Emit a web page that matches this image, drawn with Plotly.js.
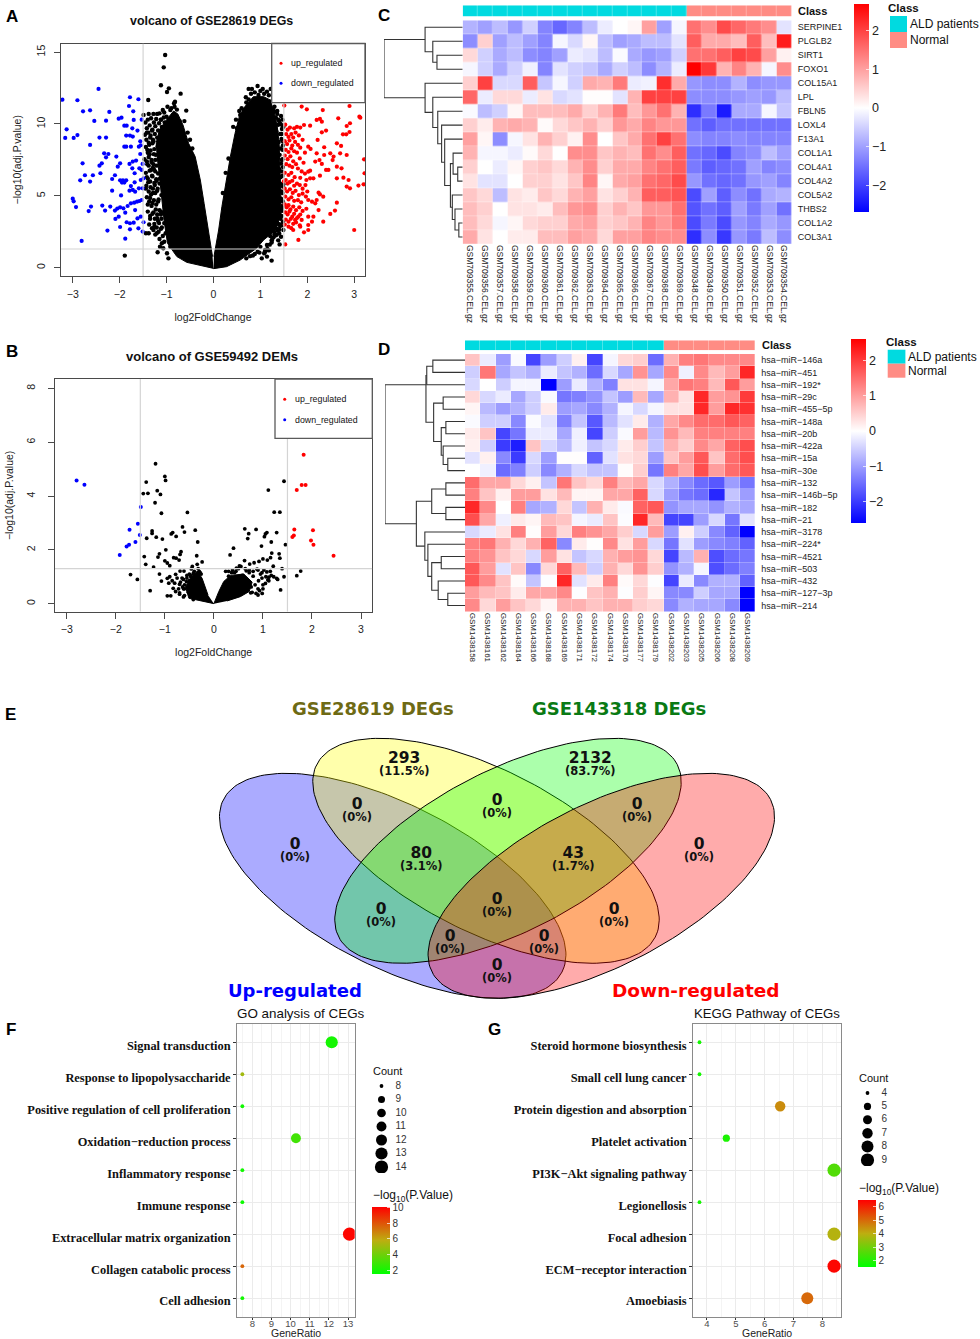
<!DOCTYPE html>
<html>
<head>
<meta charset="utf-8">
<script src="https://cdn.plot.ly/plotly-3.0.1.min.js"></script>
<style>html,body{margin:0;padding:0;background:#fff}#chart{width:980px;height:1339px}</style>
</head>
<body>
<div id="chart"></div>
<script>
// ---------- Panel A: volcano of GSE28619 ----------
const aBlueX=[-3.22,-2.90,-2.45,-1.78,-1.60,-2.78,-2.63,-2.22,-1.80,-1.71,-2.54,-2.29,-2.02,-1.96,-1.53,-1.90,-1.85,-1.70,-1.73,-1.62,-3.13,-3.16,-2.98,-2.90,-2.43,-2.29,-1.86,-1.78,-1.72,-1.56,-2.63,-1.90,-1.86,-1.76,-1.59,-1.55,-2.33,-2.24,-2.29,-2.07,-1.56,-2.79,-2.38,-2.43,-1.99,-2.04,-1.65,-1.72,-1.79,-1.51,-1.53,-1.73,-1.58,-2.74,-2.57,-2.41,-2.16,-2.10,-1.68,-2.84,-2.63,-1.99,-1.93,-1.86,-1.95,-1.90,-1.68,-1.76,-1.55,-1.49,-1.59,-2.16,-1.72,-1.67,-1.97,-1.79,-1.51,-3.00,-2.98,-2.93,-2.37,-2.20,-2.61,-2.66,-2.31,-2.10,-2.05,-1.99,-1.92,-1.83,-1.76,-1.69,-1.63,-1.58,-1.53,-2.09,-2.02,-1.88,-1.67,-1.99,-2.26,-1.85,-1.78,-1.70,-1.62,-1.55,-1.49,-1.78,-1.60,-1.51,-2.81,-1.88];
const aBlueY=[11.69,11.65,12.44,11.86,11.72,10.88,10.95,10.84,11.25,10.88,10.21,10.23,10.37,10.44,10.30,9.88,9.88,10.28,9.70,9.54,9.63,9.03,9.03,9.23,9.05,9.05,9.19,9.19,9.12,8.79,8.54,8.42,8.42,8.42,8.42,8.52,7.96,7.91,7.68,7.73,7.91,7.26,7.26,7.10,7.26,7.03,7.45,7.38,7.22,7.22,6.80,6.91,6.91,6.43,6.43,6.57,6.17,6.43,6.57,6.08,5.99,6.08,6.08,6.08,5.92,5.92,5.94,5.68,6.10,6.22,5.52,5.36,5.41,5.29,5.03,5.36,5.52,4.80,4.62,4.22,4.32,4.25,4.25,3.94,3.97,3.97,4.11,4.20,4.13,4.29,4.48,4.52,4.59,4.64,4.71,3.39,3.55,3.83,4.01,2.83,2.58,3.16,3.09,3.13,3.43,3.55,3.16,2.67,2.74,2.51,1.86,2.02];
const aRedX=[2.90,3.11,3.13,3.21,3.22,3.20,3.00,3.09,2.91,2.84,2.88,2.77,2.73,2.63,2.63,2.54,2.49,2.56,2.70,2.84,2.63,2.72,2.83,2.76,2.90,2.91,2.84,2.66,2.33,1.99,1.88,1.51,2.27,2.20,2.31,2.40,2.31,2.06,1.93,2.22,2.02,2.07,2.36,2.36,2.20,2.17,2.26,2.31,2.45,2.40,2.27,2.02,2.06,2.13,2.06,2.24,2.27,2.34,2.20,2.17,2.10,2.02,2.63,2.49,2.59,2.24,2.34,2.13,2.10,2.02,2.02,1.93,1.81,1.53,1.70,1.85,1.88,2.02,1.81,1.74,
1.53,1.58,1.63,1.72,1.78,1.85,1.55,1.60,1.66,1.70,1.75,1.82,1.52,1.57,1.62,1.68,1.74,1.80,1.90,1.95,1.54,1.60,1.66,1.72,1.78,1.85,1.52,1.58,1.64,1.70,1.76,1.84,1.92,1.55,1.62,1.68,1.80,1.88,1.95,1.52,1.60,1.66,1.73,1.85,1.98,1.50,1.54,1.58,1.62,1.68,1.72,1.78,1.84,1.90,1.96,2.00,1.52,1.57,1.63,1.69,1.75,1.82,1.90,1.97,1.53,1.60,1.66,1.72,1.80,1.87,1.52,1.56,1.60,1.64,1.70,1.76,1.83,1.90,1.98,1.53,1.58,1.62,1.68,1.72,1.78,1.85,1.54,1.60,1.65,1.70,1.76,1.84,1.52,1.60,1.66];
const aRedY=[11.25,10.51,10.44,7.54,6.57,5.80,2.62,5.71,5.52,5.64,6.10,6.26,6.91,7.03,6.22,7.49,7.96,7.73,7.96,7.84,8.65,8.47,9.28,9.28,9.44,10.05,9.86,10.39,10.97,11.02,11.21,11.28,10.35,10.28,10.16,9.54,9.42,9.88,9.93,8.89,8.42,8.26,8.38,7.84,7.96,7.38,7.49,7.22,6.80,6.80,6.40,6.68,6.75,6.22,6.22,5.22,5.10,4.94,4.71,4.48,4.59,4.71,4.52,3.74,3.97,4.01,3.20,3.55,3.20,2.97,2.62,2.46,1.93,1.62,2.62,2.85,3.32,3.55,3.55,3.32,
9.95,9.60,9.75,9.70,9.80,9.75,9.30,9.10,9.30,9.05,9.40,9.20,8.80,8.60,8.85,8.50,8.75,8.55,8.90,8.00,8.20,8.05,8.30,8.10,8.00,8.35,7.80,7.55,7.75,7.40,7.20,7.60,7.30,7.20,7.10,7.00,6.90,6.70,6.55,6.60,6.45,6.60,6.30,6.25,6.10,6.00,6.10,5.85,5.95,6.05,5.70,5.85,5.75,5.50,5.75,5.30,5.50,5.30,5.45,5.20,5.35,5.05,5.15,4.95,4.95,4.75,4.90,4.65,4.70,4.55,4.40,4.20,4.35,4.05,4.25,4.00,4.20,3.95,4.10,3.85,3.70,3.90,3.55,3.75,3.45,3.70,3.35,3.20,3.40,3.05,3.15,2.95,3.00,2.85,2.75];
const aBlackX=[-1.03,-1.06,-1.12,-0.95,-0.99,-0.70,-1.39,-0.84,-0.82,-1.08,-0.58,-1.28,-1.15,-1.49,-1.38,-0.92,-1.89,-0.96,-1.19,-1.07,-1.14,-0.99,-0.92,-1.38,-1.44,-1.28,-1.21,
0.94,0.75,0.82,1.05,1.22,1.14,0.69,0.96,0.64,0.57,1.03,1.24,1.14,0.94,1.41,1.28,1.21,1.49,1.14,1.10,
-1.45,-1.42,-1.40,-1.36,-1.33,-1.30,-1.27,-1.24,-1.22,-1.18,-1.16,-1.12,-1.10,-1.06,-1.04,-1.00,-1.46,-1.43,-1.39,-1.35,-1.31,-1.28,-1.25,-1.20,-1.17,-1.13,-1.09,-1.05,-1.44,-1.40,-1.37,-1.34,-1.30,-1.26,-1.23,-1.19,-1.15,-1.11,-1.08,-1.03,-1.47,-1.41,-1.38,-1.32,-1.29,-1.24,-1.21,-1.16,-1.13,-1.07,-1.02,-1.42,-1.36,-1.31,-1.27,-1.22,-1.18,-1.14,-1.10,-1.04,-1.44,-1.39,-1.34,-1.29,-1.25,-1.20,-1.15,-1.11,-1.06,-1.00,-1.40,-1.35,-1.30,-1.23,-1.18,-1.12,-1.08,-1.35,-1.28,-1.20,-1.12,-1.05,-1.00,-0.97,-1.26,-1.18,-1.10,-1.02,-0.98,-0.94,
1.30,1.33,1.36,1.40,1.44,1.47,1.31,1.34,1.38,1.42,1.46,1.49,1.32,1.35,1.39,1.43,1.45,1.48,1.30,1.37,1.41,1.44,1.47,1.33,1.36,1.40,1.43,1.46,1.35,1.38,1.42,1.45,1.48,1.34,1.39,1.44,1.47,1.36,1.41,1.46,1.33,1.38,1.43,1.47,1.31,1.37,1.42,1.30,1.35,1.40,1.44,1.28,1.33,1.38,1.24,1.20,1.15,1.08,1.00,0.88,0.78,0.70,1.25,1.18,1.10,0.98,0.84,
-1.42,-1.38,-1.34,-1.29,-1.41,-1.36,-1.32,-1.27,-1.42,-1.38,-1.33,-1.28,-1.24,-1.44,-1.40,-1.35,-1.30,-1.26,-1.21,-1.43,-1.38,-1.33,-1.29,-1.24,-1.19,-1.42,-1.37,-1.32,-1.27,-1.22,-1.17,-1.40,-1.35,-1.30,-1.25,-1.20,-1.15,-1.37,-1.31,-1.26,-1.21,-1.16,-1.11,-1.24,-1.17,-1.12,-1.08,-1.15,-1.05,-1.10,-1.20,-1.12,-1.05,-0.98,-0.90,-0.83,-0.78,-0.72,-0.62,-0.55,-0.50,-0.45,
0.42,0.48,0.50,0.55,0.60,0.62,0.70,0.75,0.80,0.88,1.00,1.08,1.18,1.25,1.30,1.36,1.27,1.38,1.43,1.47,1.45,1.48,1.47,1.46,1.48,1.47,1.49,1.47,1.48,1.46,1.45,1.48,1.42,1.36,1.40,1.30,1.24,0.32,0.26,0.20];
const aBlackY=[14.80,13.94,12.69,12.48,12.23,12.11,11.67,11.44,11.55,10.97,10.93,10.70,10.74,10.63,10.70,10.97,0.84,0.65,1.07,1.35,1.46,1.00,1.46,2.39,2.39,2.62,2.39,
12.64,12.44,12.44,12.44,12.44,12.25,11.86,12.02,10.97,10.63,0.65,0.49,0.77,1.11,1.62,2.11,2.20,2.62,1.58,1.23,
10.10,9.70,10.30,9.90,10.40,9.60,10.10,9.85,10.35,9.55,10.05,10.30,9.80,10.45,10.10,10.50,9.25,8.90,9.40,9.05,9.55,8.80,9.30,9.05,8.60,9.20,8.75,8.95,8.40,8.00,8.55,8.15,8.65,8.25,7.85,8.45,8.05,8.20,7.75,8.35,7.55,7.20,7.70,7.35,6.95,7.50,7.10,7.60,7.25,6.85,6.60,6.30,6.75,6.40,6.85,6.15,6.55,6.20,6.65,5.85,5.50,5.95,5.60,5.20,5.75,5.35,5.85,5.05,5.40,4.75,4.40,4.85,4.50,4.05,4.60,3.90,3.80,3.40,3.85,3.45,3.70,3.10,3.50,3.00,2.85,3.25,2.80,2.40,2.90,2.20,
10.85,10.45,10.70,10.20,10.55,10.30,9.85,9.50,9.95,9.30,9.65,9.80,8.90,8.60,8.75,8.30,8.95,8.50,7.90,7.60,7.85,7.25,7.55,6.90,6.60,6.85,6.30,6.70,5.95,5.60,5.85,5.30,5.65,4.95,4.55,4.80,4.30,4.05,3.70,3.95,3.45,3.05,3.40,2.95,3.10,2.60,2.90,2.45,2.30,2.65,2.15,2.70,2.25,1.90,1.75,1.60,1.30,1.00,1.45,0.95,0.80,0.65,1.95,1.20,1.10,1.05,0.85,
9.40,8.70,9.20,8.90,8.20,7.90,7.50,7.90,7.40,7.10,6.80,7.20,6.70,6.60,6.20,6.00,6.35,5.90,6.05,5.70,5.30,5.10,5.50,5.20,5.50,4.90,4.60,4.30,4.70,4.40,4.75,3.90,3.60,3.75,3.40,3.70,4.00,3.00,2.75,3.05,2.80,3.10,3.40,2.30,2.50,2.70,2.20,2.00,1.80,1.70,10.70,10.30,10.80,11.20,11.10,11.20,11.00,10.20,10.20,9.40,8.90,8.30,
9.80,10.30,9.70,10.90,11.10,10.50,11.50,11.70,12.10,12.20,12.30,12.10,12.00,11.60,11.20,10.90,11.00,10.30,10.00,9.90,9.30,8.80,8.20,7.50,7.00,6.40,5.80,5.20,4.60,4.10,3.60,3.20,3.00,2.70,2.40,2.30,1.90,7.60,6.60,5.20];
// outline of the solid black mass
const aMassLeftX=[0,-0.28,-0.57,-0.78,-0.98,-1.05,-1.10,-1.15,-1.20,-1.22,-1.15,-1.00,-0.85,-0.76,-0.65,-0.53,-0.39,-0.28,-0.20,-0.11,-0.02];
const aMassLeftY=[-0.05,0.14,0.37,0.77,1.70,3.20,4.90,6.30,7.70,8.70,9.60,10.30,10.90,10.70,9.93,8.65,7.73,6.10,4.48,2.62,0.77];
const aMassRightX=[0.01,0.11,0.18,0.28,0.36,0.46,0.55,0.67,0.85,1.07,1.21,1.30,1.36,1.40,1.42,1.44,1.42,1.33,1.07,0.92,0.57,0.28,0];
const aMassRightY=[0.77,2.62,4.25,6.33,7.73,9.35,10.51,11.21,11.9,11.9,11.67,10.74,9.81,8.65,7.00,4.70,3.55,2.62,1.93,1.35,0.53,0.07,-0.07];

// ---------- Panel B: volcano of GSE59492 ----------
const bRedX=[1.83,1.79,1.87,1.69,1.64,2.02,1.63,1.60,1.98,2.03,2.44];
const bRedY=[5.53,4.41,4.41,4.22,2.76,2.73,2.53,2.48,2.35,2.19,1.78];
const bBlueX=[-2.80,-2.64,-1.49,-1.55,-1.72,-1.51,-1.60,-1.73,-1.78,-1.92];
const bBlueY=[4.58,4.42,3.59,2.97,2.75,2.55,2.29,2.19,2.12,1.81];
const bBlackX=[-1.19,-1.00,-0.985,-1.38,-1.155,-1.44,-1.345,-1.09,-1.20,-1.07,-0.54,-0.64,-0.60,-0.38,-1.26,-1.26,-1.37,-1.175,-1.05,-0.87,-0.84,-0.77,-0.33,-0.98,-1.42,-1.11,-1.14,-0.67,-0.69,-1.39,-1.23,-1.00,-0.95,-0.90,-0.82,-0.77,-0.71,-0.35,-0.24,-0.34,-0.44,-0.46,-1.70,-1.56,-1.11,-1.07,-1.30,-0.95,-0.92,-0.80,-0.83,-0.78,-0.95,-0.88,-0.78,-0.69,-0.61,-0.90,-0.85,-0.75,-0.70,-0.65,-0.62,-0.55,-0.50,-0.70,-0.60,-0.52,-0.42,-0.38,-0.30,-0.26,-0.33,-0.40,-0.47,-0.56,-0.64,-0.60,-0.52,-0.45,-0.50,-0.55,-0.62,-0.68,-0.72,-0.48,-0.40,-0.32,-0.28,-0.60,-0.70,-0.62,-0.42,
1.43,1.11,1.23,1.345,0.63,0.86,0.71,0.69,1.08,1.05,1.03,1.28,1.17,1.46,0.97,0.40,0.33,1.18,1.33,1.345,1.155,1.09,1.00,0.92,0.82,0.73,0.625,0.52,1.39,1.21,1.77,1.69,1.43,1.28,1.36,0.985,0.90,0.45,0.50,0.58,0.66,0.72,0.80,0.88,0.95,1.02,1.08,1.12,1.17,0.42,0.48,0.55,0.62,0.70,0.76,0.84,0.91,0.98,1.05,1.10,1.00,0.93,0.86,0.78,0.24,0.30,0.36,0.30,0.38,0.46,0.55,0.64,0.72,0.80,0.90,0.98,1.06,1.12,1.00,0.90,0.75,1.15,1.22,1.30];
const bBlackY=[5.20,4.73,4.58,4.52,4.20,4.09,4.10,4.06,3.75,3.36,3.39,2.85,2.66,2.73,2.70,2.61,2.43,2.47,2.40,2.59,2.64,2.50,2.29,2.00,1.75,1.85,1.73,1.93,1.83,1.46,1.36,1.59,1.51,1.41,1.71,1.69,1.62,1.78,1.55,1.46,1.38,1.29,1.08,0.90,1.10,0.84,0.48,0.94,0.76,0.76,0.57,0.45,0.29,0.29,1.09,1.21,1.21,1.00,0.85,0.95,0.72,0.95,0.55,1.05,0.85,0.40,0.70,0.50,1.12,0.95,1.20,1.10,1.08,1.05,1.00,0.82,0.62,0.30,0.42,0.28,1.10,0.95,0.90,0.80,0.55,1.05,1.20,1.30,1.15,0.55,0.35,0.25,0.15,
4.55,4.22,3.40,3.40,2.78,2.76,2.60,2.42,2.64,2.59,2.49,2.64,2.29,2.19,2.14,2.06,1.81,1.88,1.85,1.69,1.71,1.62,1.66,1.57,1.52,1.47,1.60,1.40,1.30,1.39,1.21,1.04,1.00,0.94,0.51,0.38,0.32,1.20,1.30,1.05,1.22,1.15,1.02,1.28,1.10,1.25,1.18,0.98,1.05,1.15,0.95,1.00,0.75,0.82,0.62,0.70,0.85,0.95,0.75,0.88,0.55,0.48,0.38,0.42,1.20,1.02,1.15,1.20,1.25,1.32,1.38,1.30,1.25,1.20,1.25,1.15,1.00,0.85,0.70,0.55,0.40,1.20,1.00,0.90];
const bMassLeftX=[0,-0.27,-0.51,-0.58,-0.48,-0.34,-0.24,-0.12];
const bMassLeftY=[0,0.10,0.20,0.63,0.94,1.21,0.94,0.32];
const bMassRightX=[0,0.10,0.20,0.34,0.61,0.78,0.72,0.54,0.27];
const bMassRightY=[0,0.45,0.82,1.05,1.10,0.80,0.45,0.26,0.10];

// ---------- Panel C: heatmap ----------
const cRows=["SERPINE1","PLGLB2","SIRT1","FOXO1","COL15A1","LPL","FBLN5","LOXL4","F13A1","COL1A1","COL4A1","COL4A2","COL5A2","THBS2","COL1A2","COL3A1"];
const cCols=["GSM709355.CEL.gz","GSM709356.CEL.gz","GSM709357.CEL.gz","GSM709358.CEL.gz","GSM709359.CEL.gz","GSM709360.CEL.gz","GSM709361.CEL.gz","GSM709362.CEL.gz","GSM709363.CEL.gz","GSM709364.CEL.gz","GSM709365.CEL.gz","GSM709366.CEL.gz","GSM709367.CEL.gz","GSM709368.CEL.gz","GSM709369.CEL.gz","GSM709348.CEL.gz","GSM709349.CEL.gz","GSM709350.CEL.gz","GSM709351.CEL.gz","GSM709352.CEL.gz","GSM709353.CEL.gz","GSM709354.CEL.gz"];
const cClass=[0,0,0,0,0,0,0,0,0,0,0,0,0,0,0,1,1,1,1,1,1,1];
const cZ=[
[-0.8,-1.0,-0.7,-1.1,-0.5,-1.3,-1.6,-1.3,-0.7,-0.2,0,0.1,1.0,-1.0,-0.1,1.5,1.2,1.9,1.6,1.4,1.2,-0.3],
[-1.2,0.5,-1.0,-0.7,-1.0,-1.3,-0.1,-0.4,0.1,-0.7,-1.0,-0.9,-0.7,-0.7,-0.3,1.7,0.9,0.9,0.7,1.7,0.7,2.4],
[0.4,-0.5,-0.9,-0.7,-1.2,-1.3,-1.0,-0.2,-0.3,-0.7,-0.05,-0.9,-1.1,-1.0,-0.5,1.5,1.5,1.7,2.0,1.9,1.0,0.15],
[-0.1,-0.5,-0.9,-0.5,-0.15,-1.3,-0.3,-0.5,-0.6,-0.9,-0.5,-0.7,-1.2,-0.8,-0.2,2.7,2.1,0.8,1.3,0.8,-0.1,1.2],
[0.5,2.0,-0.4,-0.4,1.7,-0.6,-0.1,-0.5,0.9,0.8,1.4,-0.2,-0.15,2.2,0.9,-1.1,-1.2,-1.2,-0.8,-1.2,-1.1,-1.1],
[1.6,-0.2,0.4,0.4,-0.2,0.3,-0.4,-0.3,0.02,0.02,-0.3,0.8,2.0,2.0,2.0,-1.2,-1.2,-1.2,-1.1,-1.0,-1.1,-0.7],
[-0.05,-0.7,-0.5,0.1,0.7,0.7,0.7,0.9,0.5,0.8,1.4,0.7,1.1,1.5,0.8,-2.2,-1.4,-2.4,-0.9,-0.9,-0.1,-0.6],
[0.5,0.2,0.8,0.9,0.8,0.05,0.4,0.6,0.8,0.5,1.1,0.9,1.3,1.1,1.1,-1.5,-1.7,-1.5,-1.5,-1.5,-1.5,-1.5],
[1.0,0.1,-1.2,-0.1,0.3,0.8,0.5,0.15,1.2,0,0.6,0.9,1.5,2.0,1.5,-1.2,-1.3,-1.3,-1.2,-1.3,-1.3,-1.3],
[0.8,-0.1,-0.1,-0.2,0.05,0.4,0,1.2,1.2,0.6,0.8,0.7,1.5,1.2,1.7,-1.5,-1.6,-1.9,-1.3,-1.2,-0.7,-1.0],
[0.5,0,-0.2,0.1,0.5,0.6,0.4,0.8,1.2,0.5,0.9,0.9,1.3,1.5,1.7,-1.4,-1.7,-1.6,-1.5,-1.0,-1.3,-1.2],
[0.3,-0.3,-0.3,0,0.5,0.5,0.3,0.6,1.3,0.1,0.9,1.0,1.5,1.6,1.9,-1.1,-1.5,-1.6,-1.5,-1.1,-1.0,-1.3],
[0.6,0.4,-0.7,0.3,0.2,0.6,0.4,0.8,1.0,0.3,0.5,0.8,1.7,1.7,1.8,-1.9,-1.0,-1.7,-1.2,-1.5,-0.9,-0.8],
[0.7,0.5,0,0.3,0.3,0.2,0.7,1.1,1.2,0.5,0.8,0.6,1.1,1.1,1.5,-1.8,-1.5,-1.7,-1.0,-1.4,-1.0,-1.5],
[0.7,0.4,-0.1,0.1,0.4,0.5,0.5,0.9,1.0,0.5,0.6,0.8,1.3,1.1,1.4,-1.9,-1.4,-1.9,-1.1,-1.3,-0.9,-1.1],
[0.9,0.3,0,0.2,0.2,0.7,0.7,1.0,0.9,0.4,1.0,1.0,1.3,1.2,1.2,-2.2,-1.2,-2.1,-1.1,-1.4,-0.7,-1.2]];
const cTree=[1,[0.478,0,[0.38,1,[0.327,2,3]]],[0.478,4,[0.38,5,[0.317,6,[0.268,7,[0.229,8,[0.156,[0.122,9,[0.063,10,11]],[0.132,12,[0.098,13,[0.049,14,15]]]]]]]]]];
const cTicks=[-2,-1,0,1,2];

// ---------- Panel D: heatmap ----------
const dRows=["hsa\u2212miR\u2212146a","hsa\u2212miR\u2212451","hsa\u2212miR\u2212192*","hsa\u2212miR\u221229c","hsa\u2212miR\u2212455\u22125p","hsa\u2212miR\u2212148a","hsa\u2212miR\u221220b","hsa\u2212miR\u2212422a","hsa\u2212miR\u221215a","hsa\u2212miR\u221230e","hsa\u2212miR\u2212132","hsa\u2212miR\u2212146b\u22125p","hsa\u2212miR\u2212182","hsa\u2212miR\u221221","hsa\u2212miR\u22123178","hsa\u2212miR\u2212224*","hsa\u2212miR\u22124521","hsa\u2212miR\u2212503","hsa\u2212miR\u2212432","hsa\u2212miR\u2212127\u22123p","hsa\u2212miR\u2212214"];
const dCols=["GSM1438158","GSM1438161","GSM1438162","GSM1438164","GSM1438166","GSM1438168","GSM1438169","GSM1438171","GSM1438172","GSM1438174","GSM1438176","GSM1438177","GSM1438179","GSM1438202","GSM1438203","GSM1438205","GSM1438206","GSM1438208","GSM1438209"];
const dClass=[0,0,0,0,0,0,0,0,0,0,0,0,0,1,1,1,1,1,1];
const dZ=[
[0.6,-0.2,-1,-0.05,-1.9,-1,-0.5,0.15,-1.9,-0.1,0.4,0.5,-1.5,0.8,1.3,1.4,1.2,1.2,1.2],
[-0.5,1.4,-0.9,-0.6,-0.8,-0.2,-0.6,-0.8,-1.5,-0.4,-0.9,1.1,-0.9,1.2,-0.15,1.2,0.7,1,2.2],
[-0.4,0,-0.5,-0.1,-0.1,-2.6,-1,-0.2,-0.8,-1.3,0.3,0.3,-0.1,0.9,1.4,1.3,0.7,1.7,1],
[0.4,-0.4,-0.2,-0.9,-0.5,-0.05,-1.4,-1.3,-1.1,-0.6,-1,0.7,-0.9,0.8,0.3,2.2,1,1.1,2],
[0.1,-0.7,-1,-0.8,-0.5,0.2,-1,-0.9,-1.2,-0.8,-0.1,-0.4,-0.1,0.3,0.3,2.2,1,2.2,2.1],
[-0.05,-0.5,-0.5,-1.2,-0.05,-0.3,-1.3,-0.6,-1.7,-0.7,-0.3,0.2,-0.8,0.9,1.2,1.5,1.5,1.7,1.6],
[0.2,0.6,-1.9,-1.4,-0.2,-0.2,-0.9,-0.15,-1.9,-0.5,-0.05,1,-0.7,1.1,0.7,1.3,1.3,1.3,1.3],
[0.15,-0.5,-2,-2.3,0.6,-0.4,-0.7,-0.15,-0.6,-0.4,0.2,0.5,-0.6,0.8,0.5,1.2,0.9,1.6,1.8],
[-0.3,0.15,-1.2,-2,-0.4,-1,0.02,0.02,-1.6,-0.3,0.3,0.4,-1,0.6,1,1.7,0.6,1.5,1.8],
[0,-0.15,-1.5,-1.3,-0.5,-1.2,-0.8,-0.4,-0.6,-0.6,0.03,0.5,-1.4,1.3,0.9,1.8,1,1.5,1.7],
[1.5,0.9,0.9,0.4,0.15,-0.6,1.4,0.6,0.4,1.3,0.7,0.9,-0.4,-0.8,-1.2,-1.5,-1.7,-1,-1.4],
[1.3,0.6,0.15,1,1,0.3,0.7,0.1,0.1,0.9,0.9,1.6,-0.4,-1,-1.4,-1.5,-2.2,-0.6,-1],
[2.2,1.2,0,1.3,-0.9,-0.8,0.4,-0.6,0.8,0.2,-0.05,1.6,1.7,-1.1,-0.9,-0.9,-1.1,-0.8,-0.9],
[1.8,0.9,-0.15,0.2,0.1,0.7,0.6,-0.1,-0.2,0.6,-0.03,2.2,0.7,-1.9,-1.9,-1,-0.4,-1.4,-0.3],
[-0.4,-0.2,0.3,1.3,0.02,1,0.4,1.3,1.1,0.9,0.5,-0.4,1,-1,0.15,-0.5,-1.2,-1.6,-2.6],
[1.3,1.4,0.8,0.4,0.8,1.6,-1.2,0.2,0.02,1.2,0.3,1,-0.4,-1.4,-0.3,-1,-1.2,-1.3,-1.6],
[1.3,1.1,0.6,0.4,-0.4,1,0.3,-0.6,-0.4,0.8,1,1.1,0.4,-1.9,-0.7,0.8,-1.8,-1.5,-1.4],
[1.7,1,-0.3,0.6,-1.2,0.4,1.6,0.7,-0.5,0.8,0.4,1.1,0.5,-1.1,-0.8,-0.1,-1.8,-1.5,-1.3],
[1.7,1.2,0.6,0.05,-0.6,-0.02,2.2,-0.3,0.2,1.3,0.05,0.4,-0.02,-1.9,-0.2,-1.2,-0.8,-0.8,-1.6],
[1,0.7,0.6,0.2,0.9,0.9,1.2,-0.02,0.6,0.8,-0.02,0.5,0.1,-1.2,-1.2,-0.5,-0.9,-0.9,-2.6],
[1.2,0.4,1,0.6,0.4,0.1,0.8,0.8,0.6,0.8,0.8,0.5,0.4,-1.2,-0.8,-0.9,-0.9,-1.2,-2.6]];
const dTree=[1,[0.488,[0.478,[0.402,0,1],2],[0.392,[0.273,3,4],[0.297,[0.239,5,6],[0.273,7,[0.215,8,9]]]],2],[0.608,[0.416,[0.239,10,11],[0.239,12,13]],[0.502,14,[0.464,15,[0.416,[0.297,16,17],[0.335,18,[0.215,19,20]]]]]]];

// ---------- Panel E: Venn ----------
const vennCounts=[
["293","(11.5%)"],["2132","(83.7%)"],["0","(0%)"],["0","(0%)"],["0","(0%)"],["0","(0%)"],["0","(0%)"],["80","(3.1%)"],["43","(1.7%)"],["0","(0%)"],["0","(0%)"],["0","(0%)"],["0","(0%)"],["0","(0%)"],["0","(0%)"]];

// ---------- Panels F, G: bubble charts ----------
const fTerms=["Signal transduction","Response to lipopolysaccharide","Positive regulation of cell proliferation","Oxidation\u2212reduction process","Inflammatory response","Immune response","Extracellular matrix organization","Collagen catabolic process","Cell adhesion"];
const fRatio=[12.15,7.48,7.48,10.28,7.48,7.48,13.08,7.48,7.48];
const fCount=[13,8,8,11,8,8,14,8,8];
const fLogP=[2.0,5.2,1.9,3.0,1.9,1.8,10.0,7.6,1.9];
const fCountLegend=[8,9,10,11,12,13,14];
const gTerms=["Steroid hormone biosynthesis","Small cell lung cancer","Protein digestion and absorption","Platelet activation","PI3K\u2212Akt signaling pathway","Legionellosis","Focal adhesion","ECM\u2212receptor interaction","Amoebiasis"];
const gRatio=[3.74,3.74,6.54,4.67,8.41,3.74,8.41,8.41,7.48];
const gCount=[4,4,7,5,9,4,9,9,8];
const gLogP=[1.8,1.8,4.5,1.9,2.6,1.8,3.9,6.4,5.0];
const gCountLegend=[4,5,6,7,8,9];
const fSize={8:3.8,9:7,10:8.7,11:9.9,12:11,13:12.2,14:13.2};
const gSize={4:3.8,5:7.2,6:9,7:10.4,8:12,9:13.2};

// ---------- helpers ----------
const W=980,H=1339;
const px=x=>x/W, py=y=>1-y/H;
const domX=(a,b)=>[a/W,b/W], domY=(t,b)=>[1-b/H,1-t/H];
const SANS='"Liberation Sans", Arial, sans-serif', SERIF='"Liberation Serif", "Times New Roman", serif', DJ='"DejaVu Sans", Verdana, sans-serif';
const annotations=[], shapes=[], traces=[];
function note(text,x,y,size,o={}){annotations.push({text,x:px(x),y:py(y),xref:'paper',yref:'paper',showarrow:false,xanchor:o.anchor||'left',yanchor:'middle',align:o.anchor||'left',borderpad:0,
  font:{family:o.family||SANS,size,color:o.color||'#111',weight:o.weight||400}});}
function rect(x0,y0,x1,y1,fill,line,lw){shapes.push({type:'rect',xref:'paper',yref:'paper',x0:px(x0),x1:px(x1),y0:py(y0),y1:py(y1),fillcolor:fill,line:{color:line||fill,width:lw===undefined?0:lw},layer:'above'});}
function dot(x,y,d,c){shapes.push({type:'circle',xref:'paper',yref:'paper',x0:px(x-d/2),x1:px(x+d/2),y0:py(y+d/2),y1:py(y-d/2),fillcolor:c,line:{width:0},layer:'above'});}
const scatter=(xa,ya,x,y,color,size)=>({type:'scatter',mode:'markers',xaxis:xa,yaxis:ya,x,y,marker:{color,size,line:{width:0}},hoverinfo:'skip',showlegend:false});
const mass=(xa,ya,x,y)=>({type:'scatter',mode:'lines',xaxis:xa,yaxis:ya,x,y,fill:'toself',fillcolor:'#000',line:{color:'#000',width:1},hoverinfo:'skip',showlegend:false});
function walk(node,out){ // nested merges -> dendrogram segments
  if(typeof node==='number')return {y:node,h:0};
  const a=walk(node[1],out),b=walk(node[2],out),h=node[0];
  out.x.push(a.h,h,h,b.h,null);out.y.push(a.y,a.y,b.y,b.y,null);
  return {y:node[3]!==undefined?node[3]:(a.y+b.y)/2,h};
}
const layout={width:W,height:H,margin:{l:0,r:0,t:0,b:0},paper_bgcolor:'#fff',plot_bgcolor:'rgba(0,0,0,0)',showlegend:false,font:{family:SANS,color:'#222'},annotations,shapes};

// ---- volcano panels
function volcano(n,box,xr,yr,ytv,o){
  const xk=n===1?'xaxis':'xaxis'+n,yk=n===1?'yaxis':'yaxis'+n;
  const common={showgrid:false,zeroline:false,showline:true,mirror:true,linecolor:'#4a4a4a',linewidth:1.3,ticks:'outside',ticklen:6,tickcolor:'#4a4a4a',tickfont:{size:10.5,color:'#222'}};
  layout[xk]=Object.assign({},common,{domain:domX(box[0],box[1]),range:xr,tickmode:'array',tickvals:[-3,-2,-1,0,1,2,3],ticklabelstandoff:o.xls,title:{text:'log2FoldChange',font:{size:10.5,color:'#222'},standoff:o.xs},anchor:n===1?'y':'y'+n});
  layout[yk]=Object.assign({},common,{domain:domY(box[2],box[3]),range:yr,tickmode:'array',tickvals:ytv,tickangle:-90,ticklabelstandoff:o.yls,title:{text:'\u2212log10(adj.P.value)',font:{size:10.5,color:'#222'},standoff:o.ys},anchor:n===1?'x':'x'+n});
}
volcano(1,[61,365,43.5,276],[-3.25,3.23],[-0.58,15.6],[0,5,10,15],{xls:2,yls:5,xs:14,ys:10});
volcano(2,[55,372.3,379,611.7],[-3.24,3.23],[-0.3,8.35],[0,2,4,6,8],{xls:2,yls:9,xs:14,ys:8});
traces.push(scatter('x','y',aBlackX,aBlackY,'#000',4.4),mass('x','y',aMassLeftX,aMassLeftY),mass('x','y',aMassRightX,aMassRightY),scatter('x','y',aBlueX,aBlueY,'#0000FF',4.2),scatter('x','y',aRedX,aRedY,'#FF0000',4.2));
traces.push(mass('x2','y2',bMassLeftX,bMassLeftY),mass('x2','y2',bMassRightX,bMassRightY),scatter('x2','y2',bBlackX,bBlackY,'#000',3.8),scatter('x2','y2',bBlueX,bBlueY,'#0000FF',4),scatter('x2','y2',bRedX,bRedY,'#FF0000',4));
function thresh(xr,yr,xa,ya){
  const lc={color:'#d4d4d4',width:1.2};
  [-1.5,1.5].forEach(v=>shapes.push({type:'line',xref:xa,yref:ya,x0:v,x1:v,y0:yr[0],y1:yr[1],line:lc,layer:'above'}));
  shapes.push({type:'line',xref:xa,yref:ya,x0:xr[0],x1:xr[1],y0:1.3,y1:1.3,line:lc,layer:'above'});
}
thresh([-3.25,3.23],[-0.58,15.6],'x','y');
thresh([-3.24,3.23],[-0.3,8.35],'x2','y2');
rect(271.7,43.5,365,102.7,'#fff','#5a5a5a',1.3);
rect(275,379,372.3,438.3,'#fff','#5a5a5a',1.3);
dot(281,63.3,3,'#FF0000');dot(281,83.3,3,'#0000FF');
dot(284.7,399.3,3,'#FF0000');dot(284.7,419.7,3,'#0000FF');
note('up_regulated',290,63.3,8.8);note('down_regulated',290,83.3,8.8);
note('up_regulated',294,399.3,8.8);note('down_regulated',294,419.7,8.8);
note('volcano of GSE28619 DEGs',211.7,21,12.4,{anchor:'center',weight:700});
note('volcano of GSE59492 DEMs',211.7,356.7,13,{anchor:'center',weight:700});

// ---- heatmaps
const BWR=[[0,'#0000FF'],[0.5,'#FFFFFF'],[1,'#FF0000']];
const CLS=[[0,'#00DAE0'],[0.5,'#00DAE0'],[0.5,'#FF8C84'],[1,'#FF8C84']];
function heat(o){
  const [nx,ny,bx,by,dx,dy]=o.ax;
  traces.push({type:'heatmap',xaxis:'x'+nx,yaxis:'y'+ny,z:o.z,x:o.cols,y:o.rows,zmin:o.zr[0],zmax:o.zr[1],colorscale:BWR,xgap:0.3,ygap:0.3,hoverinfo:'skip',
    colorbar:{x:px(o.cb[0]),xanchor:'left',xpad:0,y:py(o.cb[2]),yanchor:'top',ypad:0,lenmode:'pixels',len:o.cb[3]-o.cb[2],thicknessmode:'pixels',thickness:o.cb[1]-o.cb[0],outlinewidth:0,borderwidth:0,tickmode:'array',tickvals:cTicks,ticks:'inside',ticklen:3,tickcolor:'rgba(255,255,255,0.7)',tickfont:{size:12.5,color:'#222'},ticklabelposition:'outside'}});
  traces.push({type:'heatmap',xaxis:'x'+bx,yaxis:'y'+by,z:[o.cls],x:o.cols,zmin:0,zmax:1,colorscale:CLS,showscale:false,xgap:0.3,hoverinfo:'skip'});
  layout['xaxis'+nx]={domain:domX(o.x0,o.x1),anchor:'y'+ny,type:'category',tickmode:'array',tickvals:o.cols,ticktext:o.cols,tickangle:90,ticks:'',ticklen:0,tickfont:{size:o.cf,color:'#222'},showgrid:false,zeroline:false,showline:false,categoryorder:'array',categoryarray:o.cols};
  layout['yaxis'+ny]={domain:domY(o.y0,o.y1),anchor:'x'+nx,side:'right',type:'category',tickmode:'array',tickvals:o.rows,ticktext:o.rows,range:[o.rows.length-0.5,-0.5],ticks:'',ticklabelstandoff:5,tickfont:{size:9,color:'#222'},showgrid:false,zeroline:false,showline:false,categoryorder:'array',categoryarray:o.rows};
  layout['xaxis'+bx]={domain:domX(o.x0,o.x1),anchor:'y'+by,visible:false,type:'category',categoryorder:'array',categoryarray:o.cols};
  layout['yaxis'+by]={domain:domY(o.bar[0],o.bar[1]),anchor:'x'+bx,visible:false};
  const seg={x:[],y:[]};walk(o.tree,seg);
  traces.push({type:'scatter',mode:'lines',xaxis:'x'+dx,yaxis:'y'+dy,x:seg.x,y:seg.y,line:{color:'#333',width:1.1},hoverinfo:'skip',showlegend:false,cliponaxis:false});
  layout['xaxis'+dx]={domain:domX(o.dx0,o.x0),anchor:'y'+dy,visible:false,range:[1,0]};
  layout['yaxis'+dy]={domain:domY(o.y0,o.y1),anchor:'x'+dx,visible:false,range:[o.rows.length-0.5,-0.5]};
}
heat({ax:[3,3,4,4,5,5],z:cZ,rows:cRows,cols:cCols,cls:cClass,tree:cTree,zr:[-2.69,2.69],cb:[853.8,868.5,4,212],x0:462.7,x1:791.7,y0:20.3,y1:244,bar:[5.3,16.7],dx0:384,cf:8.5});
heat({ax:[6,6,7,7,8,8],z:dZ,rows:dRows,cols:dCols,cls:dClass,tree:dTree,zr:[-2.6,2.6],cb:[851,866,339,523],x0:465,x1:755.3,y0:354,y1:611.7,bar:[340.3,350.3],dx0:385,cf:8});
note('Class',797,11,11,{weight:700});note('Class',761,345,11,{weight:700});
note('Class',887,8,11.5,{weight:700});
rect(890,16,907,32,'#00DAE0');rect(890,32,907,48,'#FF8C84');
note('ALD patients',909,24,12);note('Normal',909,40,12);
note('Class',885,342,11.5,{weight:700});
rect(887.7,349.7,905.4,363.7,'#00DAE0');rect(887.7,363.7,905.4,377.7,'#FF8C84');
note('ALD patients',907,357,12);note('Normal',907,371,12);

// ---- Venn
layout.xaxis9={domain:domX(200,800),anchor:'y9',range:[200,800],visible:false};
layout.yaxis9={domain:domY(725,1005),anchor:'x9',range:[1005,725],visible:false};
const ell=[[392.7,885.8,27,'rgba(0,0,255,0.33)'],[486,850.8,27,'rgba(255,255,0,0.33)'],[508,850.8,-27,'rgba(0,255,0,0.33)'],[601.3,885.8,-27,'rgba(255,0,0,0.33)']];
ell.forEach(e=>{const X=[],Y=[],t=e[2]*Math.PI/180;for(let i=0;i<=180;i++){const a=i*Math.PI/90,u=190*Math.cos(a),v=81*Math.sin(a);X.push(e[0]+u*Math.cos(t)-v*Math.sin(t));Y.push(e[1]+u*Math.sin(t)+v*Math.cos(t));}
  traces.push({type:'scatter',mode:'lines',xaxis:'x9',yaxis:'y9',x:X,y:Y,fill:'toself',fillcolor:e[3],line:{color:'#000',width:1},hoverinfo:'skip',showlegend:false});});
const vennPos=[[403.8,757],[590,757],[295.4,843],[357,803],[497,800],[636.5,803],[698.8,843],[421,853],[573,853],[497,898],[380.8,908],[613.5,908],[450,935],[543.5,935],[497,964]];
// one text block per region: a count over its percentage
vennCounts.forEach((c,i)=>note('<span style="font-size:15.5px">'+c[0]+'</span><br><span style="font-size:11.5px">'+c[1]+'</span>',vennPos[i][0],vennPos[i][1]+6,9,{anchor:'center',family:DJ,weight:700}));
note('GSE28619 DEGs',372.5,708,18,{anchor:'center',family:DJ,weight:700,color:'#6E6A14'});
note('GSE143318 DEGs',619,708,18,{anchor:'center',family:DJ,weight:700,color:'#0A7A14'});
note('Up-regulated',295,990,18,{anchor:'center',family:DJ,weight:700,color:'#0000FF'});
note('Down-regulated',696,990,18.5,{anchor:'center',family:DJ,weight:700,color:'#FF0000'});

// ---- bubbles
const GR=[[0,'#00FF00'],[0.5,'#BDAE10'],[1,'#FF0000']];
function bubble(o){
  const [n,ln]=o.ax;
  traces.push({type:'scatter',mode:'markers',xaxis:'x'+n,yaxis:'y'+n,x:o.ratio,y:o.terms,hoverinfo:'skip',showlegend:false,
    marker:{opacity:1,size:o.count.map(c=>o.sz[c]),color:o.logp,cmin:o.cr[0],cmax:o.cr[1],colorscale:GR,line:{width:0},
      colorbar:{x:px(o.cb[0]),xanchor:'left',xpad:0,y:py(o.cb[2]),yanchor:'top',ypad:0,lenmode:'pixels',len:o.cb[3]-o.cb[2],thicknessmode:'pixels',thickness:o.cb[1]-o.cb[0],outlinewidth:0,borderwidth:0,tickmode:'array',tickvals:o.cticks,ticks:'inside',ticklen:3,tickcolor:'rgba(255,255,255,0.7)',tickfont:{size:10,color:'#333'}}}});
  layout['xaxis'+n]={domain:domX(o.box[0],o.box[1]),anchor:'y'+n,range:o.xr,tick0:0,dtick:1,ticks:'outside',ticklen:2,tickcolor:'#333',ticklabelstandoff:-4,tickfont:{size:9.5,color:'#4D4D4D'},showgrid:true,gridcolor:'#EBEBEB',gridwidth:1,zeroline:false,showline:true,mirror:true,linecolor:'#8a8a8a',linewidth:1.4,
    minor:{dtick:0.5,tick0:0,showgrid:true,gridcolor:'#F4F4F4',gridwidth:1,ticks:''}};
  layout['yaxis'+n]={domain:domY(o.box[2],o.box[3]),anchor:'x'+n,type:'category',categoryorder:'array',categoryarray:o.terms,range:[8.58,-0.58],ticks:'outside',ticklen:3,tickcolor:'#333',ticklabelshift:-3,tickfont:{family:SERIF,size:12.4,color:'#111',weight:700},showgrid:true,gridcolor:'#EBEBEB',zeroline:false,showline:true,mirror:true,linecolor:'#8a8a8a',linewidth:1.4};
  traces.push({type:'scatter',mode:'markers',xaxis:'x'+ln,yaxis:'y'+ln,x:o.cl.map(()=>0.25),y:o.cl,marker:{opacity:1,size:o.cl.map(c=>o.sz[c]),color:'#000',line:{width:0}},hoverinfo:'skip',showlegend:false});
  traces.push({type:'scatter',mode:'text',xaxis:'x'+ln,yaxis:'y'+ln,x:o.cl.map(()=>0.62),y:o.cl,text:o.cl.map(String),textposition:'middle right',textfont:{size:10,color:'#333'},hoverinfo:'skip',showlegend:false});
  layout['xaxis'+ln]={domain:domX(o.lb[0],o.lb[1]),anchor:'y'+ln,range:[0,1],visible:false};
  layout['yaxis'+ln]={domain:domY(o.lb[2],o.lb[3]),anchor:'x'+ln,range:o.lr,visible:false};
}
bubble({ax:[10,11],terms:fTerms,ratio:fRatio,count:fCount,logp:fLogP,sz:fSize,cl:fCountLegend,box:[237.3,354.7,1023.7,1316.7],xr:[7.216,13.35],cr:[1.53,10.13],cb:[372,389.7,1206.7,1273.7],cticks:[2,4,6,8,10],lb:[372,410,1080,1173],lr:[14.444,7.556]});
bubble({ax:[12,13],terms:gTerms,ratio:gRatio,count:gCount,logp:gLogP,sz:gSize,cl:gCountLegend,box:[693.3,841,1023.7,1316.7],xr:[3.525,8.65],cr:[1.54,6.49],cb:[858,876,1200,1267.3],cticks:[2,3,4,5,6],lb:[858,896,1087,1166],lr:[9.448,3.552]});
note('GeneRatio',296,1332.5,10.5,{anchor:'center',color:'#222'});
note('GeneRatio',766.7,1332.5,10.5,{anchor:'center',color:'#222'});
note('GO analysis of CEGs',301,1013.7,13.4,{anchor:'center'});
note('KEGG Pathway of CEGs',766.7,1013.7,13.2,{anchor:'center'});
note('Count',372,1071,11);note('Count',858,1078,11);
note('\u2212log<sub>10</sub>(P.Value)',372,1196,12);note('\u2212log<sub>10</sub>(P.Value)',858,1189,12);

// ---- panel letters
[['A',5,16],['B',5,351],['C',377,15],['D',377,350],['E',4,714],['F',5,1029],['G',487,1029]].forEach(l=>note(l[0],l[1],l[2],17,{weight:700,color:'#000'}));

Plotly.newPlot('chart',traces,layout,{displayModeBar:false,responsive:false});
</script>
</body>
</html>
